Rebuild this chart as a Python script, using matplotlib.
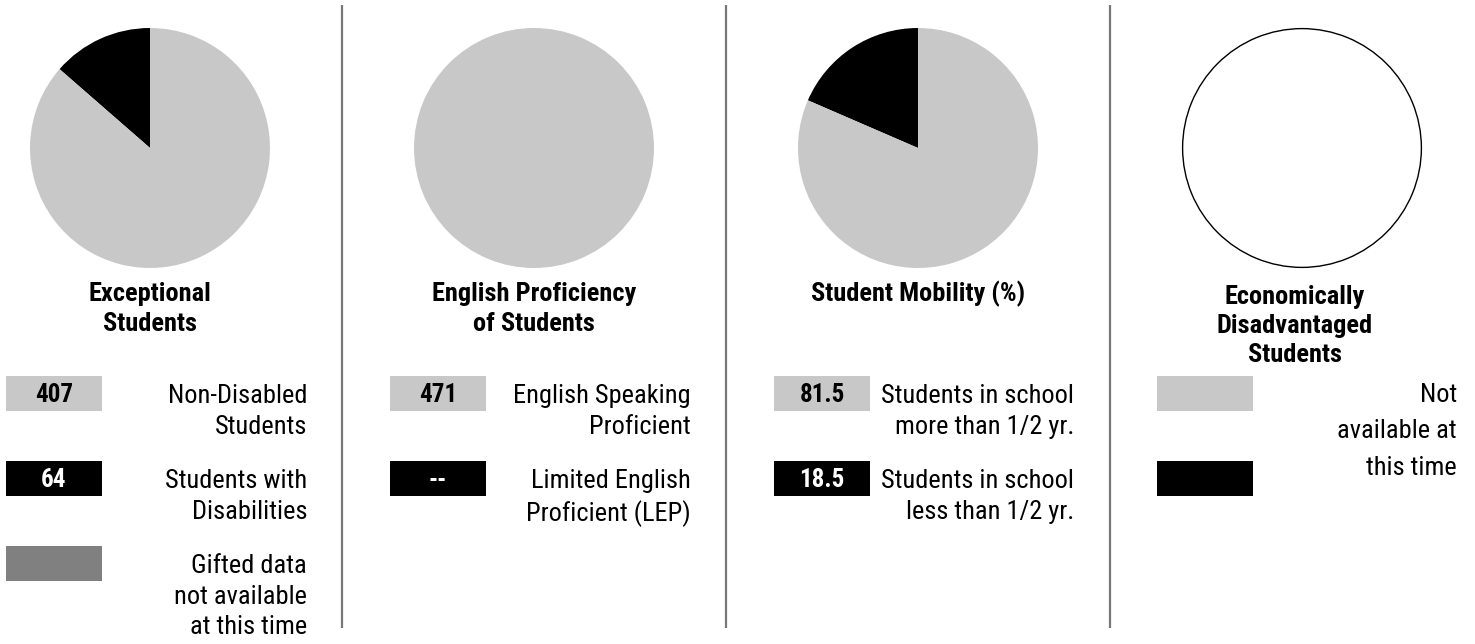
'''
Student demographics pie panels
'''

import matplotlib.pyplot as plt
from matplotlib.patches import Rectangle

plt.rcParams['font.family'] = ['Roboto Condensed', 'DejaVu Sans']

LIGHT = '#c8c8c8'
DARK = '#000000'
MID = '#808080'

titles = ['Exceptional\nStudents',
          'English Proficiency\nof Students',
          'Student Mobility (%)',
          'Economically\nDisadvantaged\nStudents']

exceptional_values = [64, 407]
english_values = [0, 471]
mobility_values = [18.5, 81.5]

exceptional_labels = ['407', '64', '']
exceptional_text = ['Non-Disabled\nStudents', 'Students with\nDisabilities',
                    'Gifted data\nnot available\nat this time']
english_labels = ['471', '--']
english_text = ['English Speaking\nProficient',
                'Limited English\nProficient (LEP)']
mobility_labels = ['81.5', '18.5']
mobility_text = ['Students in school\nmore than 1/2 yr.',
                 'Students in school\nless than 1/2 yr.']
economic_text = 'Not\navailable at\nthis time'

W, H = 1475, 644
fig = plt.figure(figsize=(W / 100, H / 100), dpi=100)

centers = [150, 534, 918, 1302]
radius = 120


def pie_axes(cx, cy=148):
    '''
    Axes placed over one pie in pixel space
    '''
    ax = fig.add_axes([(cx - radius) / W, (H - cy - radius) / H,
                       2 * radius / W, 2 * radius / H])
    return ax


def fix_limits(ax):
    '''
    Make the pie fill its axes
    '''
    ax.set_xlim(-1, 1)
    ax.set_ylim(-1, 1)
    ax.set_aspect('equal')
    ax.axis('off')


for cx, values in zip(centers[:3],
                      [exceptional_values, english_values, mobility_values]):
    ax = pie_axes(cx)
    ax.pie(values, colors=[DARK, LIGHT], startangle=90, radius=1,
           counterclock=True, wedgeprops={'linewidth': 0})
    fix_limits(ax)

ax = pie_axes(centers[3])
ax.pie([1], colors=['white'], radius=0.995,
       wedgeprops={'linewidth': 1, 'edgecolor': 'black'})
fix_limits(ax)

# overlay in pixel coordinates for the text and legend boxes
ov = fig.add_axes([0, 0, 1, 1], zorder=-1)
ov.set_xlim(0, W)
ov.set_ylim(H, 0)
ov.axis('off')

ov.vlines([342, 726, 1110], 5, 628, colors='#777777', linewidth=1.6)

title_y = [309, 309, 294, 326]
title_x = [150, 534, 918, 1295]
title_spacing = [1.35, 1.35, 1.35, 1.27]
for x, y, t, ls in zip(title_x, title_y, titles, title_spacing):
    ov.text(x, y, t, ha='center', va='center', fontsize=19,
            fontweight='bold', linespacing=ls)

BOX_W, BOX_H = 96, 35
box_y = [376, 461, 546]


def legend_rows(x0, text_x, labels, texts, colors):
    '''
    Draw legend boxes with values and right aligned descriptions
    '''
    for y, lab, txt, col in zip(box_y, labels, texts, colors):
        ov.add_patch(Rectangle((x0, y), BOX_W, BOX_H, color=col, lw=0))
        tc = 'white' if col == DARK else 'black'
        ov.text(x0 + BOX_W / 2, y + BOX_H / 2 + 1, lab, ha='center',
                va='center', fontsize=18, fontweight='bold', color=tc)
        ov.text(text_x, y + 8, txt, ha='right', va='top', fontsize=19,
                linespacing=1.35)


legend_rows(6, 307, exceptional_labels, exceptional_text, [LIGHT, DARK, MID])
legend_rows(390, 691, english_labels, english_text, [LIGHT, DARK])
legend_rows(774, 1074, mobility_labels, mobility_text, [LIGHT, DARK])

for y, col in zip(box_y[:2], [LIGHT, DARK]):
    ov.add_patch(Rectangle((1157, y), BOX_W, BOX_H, color=col, lw=0))
ov.text(1457, 383, economic_text, ha='right', va='top', fontsize=19,
        linespacing=1.65)

fig.savefig('out.png', dpi=100)
